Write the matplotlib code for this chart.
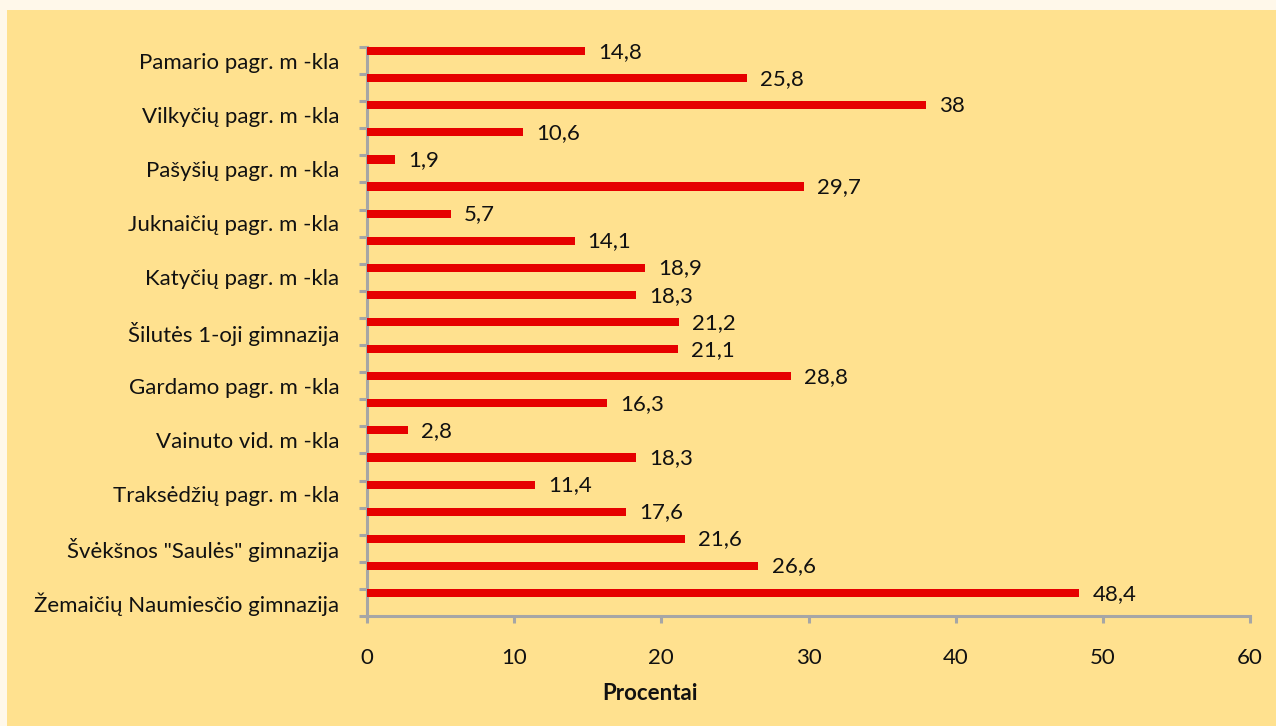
import matplotlib
matplotlib.use("Agg")
import matplotlib.pyplot as plt
from matplotlib.patches import Rectangle
import numpy as np

plt.rcParams['font.family'] = ['Lato', 'DejaVu Sans']

categories = ["Pamario pagr. m -kla", "Vilkyčių pagr. m -kla", "Pašyšių pagr. m -kla",
              "Juknaičių pagr. m -kla", "Katyčių pagr. m -kla", "Šilutės 1-oji gimnazija",
              "Gardamo pagr. m -kla", "Vainuto vid. m -kla", "Traksėdžių pagr. m -kla",
              "Švėkšnos \"Saulės\" gimnazija", "Žemaičių Naumiesčio gimnazija"]
values = [14.8, 25.8, 38, 10.6, 1.9, 29.7, 5.7, 14.1, 18.9, 18.3, 21.2, 21.1,
          28.8, 16.3, 2.8, 18.3, 11.4, 17.6, 21.6, 26.6, 48.4]
value_labels = ["14,8", "25,8", "38", "10,6", "1,9", "29,7", "5,7", "14,1", "18,9", "18,3",
                "21,2", "21,1", "28,8", "16,3", "2,8", "18,3", "11,4", "17,6", "21,6",
                "26,6", "48,4"]
xticks = [0, 10, 20, 30, 40, 50, 60]
xlabel = "Procentai"

FS = 16
W, H = 1276, 726
fig = plt.figure(figsize=(W / 100, H / 100), dpi=100, facecolor="#FFF8EA")
bg = Rectangle((7 / W, 0), 1 - 7 / W, 1 - 10 / H, transform=fig.transFigure,
               facecolor="#FFE18F", edgecolor="none", zorder=-10)
fig.add_artist(bg)

ax = fig.add_axes([367 / W, 1 - 616 / H, (1250 - 367) / W, (616 - 47) / H])
ax.set_zorder(5)
ax.set_facecolor("none")

n = len(values)
ypos = np.arange(n)
bh = 0.3
ax.barh(ypos + bh / 2, values, height=bh, color="#E60000", zorder=3)
for y, v, lab in zip(ypos, values, value_labels):
    ax.annotate(lab, (v, y + bh / 2), xytext=(9.5, -0.5), textcoords="offset points",
                ha="left", va="center", fontsize=FS, color="#111111")

ax.set_xlim(0, 60)
ax.set_ylim(n, 0)
ax.set_xticks(xticks)
ax.set_xticklabels([str(t) for t in xticks], fontsize=FS, color="#111111")
ax.set_yticks(np.arange(n + 1))
ax.set_yticklabels([])
ax.set_yticks(np.arange(len(categories)) * 2 + 0.5, minor=True)
ax.set_yticklabels(categories, minor=True, fontsize=FS, color="#111111")
ax.tick_params(axis="y", which="minor", length=0, pad=20)
ax.tick_params(axis="y", which="major", length=6, width=2.2, color="#A6A6A6", direction="out")
ax.tick_params(axis="x", which="major", length=5, width=2.2, color="#A6A6A6", direction="out", pad=18)

for s in ["top", "right"]:
    ax.spines[s].set_visible(False)
for s in ["left", "bottom"]:
    ax.spines[s].set_color("#A6A6A6")
    ax.spines[s].set_linewidth(2.2)

fig.text(650 / W, 1 - 693 / H, xlabel, ha="center", va="center", fontsize=FS,
         fontweight="bold", color="#111111")

fig.savefig("out.png", dpi=100, facecolor=fig.get_facecolor())
